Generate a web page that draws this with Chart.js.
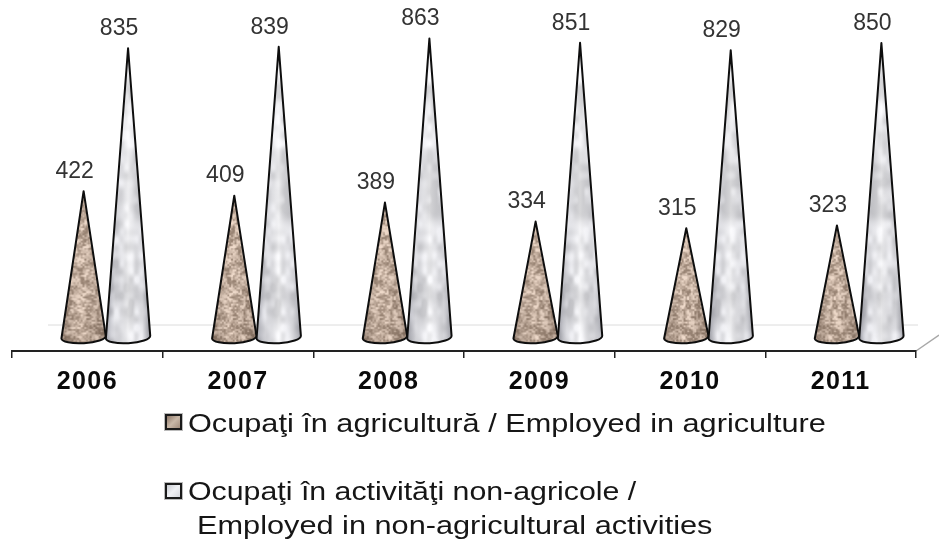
<!DOCTYPE html>
<html>
<head>
<meta charset="utf-8">
<title>Ocupați</title>
<script src="https://cdn.jsdelivr.net/npm/chart.js@4"></script>
<style>
  html, body { margin: 0; padding: 0; background: #fff; overflow: hidden; }
  #wrap { position: relative; width: 939px; height: 539px; filter: blur(0.45px); }
  #chart { position: absolute; left: 0; top: 0; }
  .lg { position: absolute; font: 26px "Liberation Sans", Arial, sans-serif; color: #161616; white-space: nowrap; line-height: 30px; transform-origin: left center; }
  .sw { position: absolute; width: 13px; height: 12px; border: 2px solid #1a1a1a; box-shadow: 0 0 0 1px #bbb; }
</style>
</head>
<body>
<div id="wrap">
  <canvas id="chart" width="939" height="539"></canvas>
  <div class="sw" style="left:165px;top:414px;background:linear-gradient(135deg,#8d7767,#c9b8a8,#a08b7b)"></div>
  <div class="lg" style="left:188px;top:408px;transform:scaleX(1.18)" id="lg1"></div>
  <div class="sw" style="left:165px;top:483px;background:linear-gradient(135deg,#c9ccd2,#f0f1f4,#d5d7dc)"></div>
  <div class="lg" style="left:188px;top:476px;transform:scaleX(1.166)" id="lg2"></div>
  <div class="lg" style="left:197px;top:510px;transform:scaleX(1.181)" id="lg3"></div>
</div>
<script>
var years = ["2006", "2007", "2008", "2009", "2010", "2011"];
var agriculture = [422, 409, 389, 334, 315, 323];
var nonAgriculture = [835, 839, 863, 851, 829, 850];
var legendLabels = [
  "Ocupaţi în agricultură / Employed in agriculture",
  "Ocupaţi în activităţi non-agricole /",
  "Employed in non-agricultural activities"
];

document.getElementById("lg1").textContent = legendLabels[0];
document.getElementById("lg2").textContent = legendLabels[1];
document.getElementById("lg3").textContent = legendLabels[2];

// repeatable noise for the cone textures
function hash(x, y) {
  var s = Math.sin(x * 127.1 + y * 311.7) * 43758.5453;
  return s - Math.floor(s);
}

function smoothNoise(x, y) {
  var xi = Math.floor(x), yi = Math.floor(y);
  var fx = x - xi, fy = y - yi;
  fx = fx * fx * (3 - 2 * fx);
  fy = fy * fy * (3 - 2 * fy);
  var a = hash(xi, yi), b = hash(xi + 1, yi);
  var c = hash(xi, yi + 1), d = hash(xi + 1, yi + 1);
  return (a + (b - a) * fx) * (1 - fy) + (c + (d - c) * fx) * fy;
}

function makeTexture(paint) {
  var c = document.createElement("canvas");
  c.width = 80;
  c.height = 340;
  var g = c.getContext("2d");
  var img = g.createImageData(80, 340);
  for (var y = 0; y < 340; y++) {
    for (var x = 0; x < 80; x++) {
      var col = paint(x, y);
      var i = (y * 80 + x) * 4;
      img.data[i] = col[0];
      img.data[i + 1] = col[1];
      img.data[i + 2] = col[2];
      img.data[i + 3] = 255;
    }
  }
  g.putImageData(img, 0, 0);
  return c;
}

var speckle = makeTexture(function(x, y) {
  var n = smoothNoise(x / 1.8, y / 1.8) * 0.6 + smoothNoise(x / 5, y / 5) * 0.4;
  n = Math.min(1, Math.max(0, (n - 0.25) * 2));
  return [142 + n * 96, 120 + n * 96, 104 + n * 96];
});

var marble = makeTexture(function(x, y) {
  var n = smoothNoise(x / 11 + 3, y / 17) * 0.55 + smoothNoise(x / 5, y / 8 + 7) * 0.45;
  var v = 196 + Math.min(1, Math.max(0, (n - 0.22) * 1.8)) * 56;
  return [v, v, v + 3];
});

var conePlugin = {
  id: "cones",
  beforeDraw: function(chart) {
    var ctx = chart.ctx;
    var area = chart.chartArea;
    ctx.letterSpacing = "1.4px";
    ctx.save();
    // floor of the 3D plot
    ctx.strokeStyle = "#dcdcdc";
    ctx.lineWidth = 1;
    ctx.beginPath();
    ctx.moveTo(area.left + 36, area.bottom - 26);
    ctx.lineTo(area.right + 2, area.bottom - 26);
    ctx.stroke();
    ctx.strokeStyle = "#a8a8a8";
    ctx.lineWidth = 1.5;
    ctx.beginPath();
    ctx.moveTo(area.right, area.bottom);
    ctx.lineTo(area.right + 23, area.bottom - 16);
    ctx.stroke();
    ctx.restore();
  },
  afterDatasetsDraw: function(chart) {
    var ctx = chart.ctx;
    var textures = [speckle, marble];
    chart.data.datasets.forEach(function(ds, di) {
      chart.getDatasetMeta(di).data.forEach(function(bar, i) {
        var cx = bar.x + 18.5;
        var half = bar.width / 2;
        var ry = 6;
        var tilt = -0.06;
        ctx.save();
        ctx.beginPath();
        ctx.moveTo(cx, bar.y);
        ctx.lineTo(cx + half * Math.cos(tilt), bar.base + half * Math.sin(tilt));
        ctx.ellipse(cx, bar.base, half, ry, tilt, 0, Math.PI);
        ctx.closePath();

        ctx.save();
        ctx.clip();
        ctx.translate(cx - half - 4 * i, bar.base - 330);
        ctx.fillStyle = ctx.createPattern(textures[di], "repeat");
        ctx.fillRect(4 * i, 0, bar.width + 4, 345);
        ctx.restore();

        ctx.save();
        ctx.clip();
        var g = ctx.createLinearGradient(cx - half, 0, cx + half, 0);
        if (di === 0) {
          g.addColorStop(0, "rgba(60,45,35,.3)");
          g.addColorStop(0.45, "rgba(255,245,230,.1)");
          g.addColorStop(1, "rgba(60,45,35,.25)");
        } else {
          g.addColorStop(0, "rgba(70,72,85,.5)");
          g.addColorStop(0.2, "rgba(150,152,165,.15)");
          g.addColorStop(0.5, "rgba(255,255,255,.3)");
          g.addColorStop(0.82, "rgba(150,152,165,.12)");
          g.addColorStop(1, "rgba(70,72,85,.45)");
        }
        ctx.fillStyle = g;
        ctx.fillRect(cx - half - 1, bar.y, bar.width + 2, bar.base - bar.y + ry + 2);
        ctx.restore();

        ctx.strokeStyle = "#0e0e0e";
        ctx.lineWidth = 2;
        ctx.lineJoin = "round";
        ctx.stroke();
        ctx.restore();

        // value label, up and left of the tip
        ctx.save();
        ctx.letterSpacing = "0px";
        ctx.font = "23px 'Liberation Sans', Arial, sans-serif";
        ctx.fillStyle = "#333";
        ctx.textAlign = "center";
        ctx.textBaseline = "middle";
        ctx.fillText(String(ds.data[i]), cx - 9, bar.y - 19.5);
        ctx.restore();
      });
    });
  }
};

new Chart(document.getElementById("chart"), {
  type: "bar",
  data: {
    labels: years,
    datasets: [
      { label: legendLabels[0], data: agriculture, backgroundColor: "rgba(0,0,0,0)" },
      { label: legendLabels[1] + " " + legendLabels[2], data: nonAgriculture, backgroundColor: "rgba(0,0,0,0)" }
    ]
  },
  options: {
    responsive: false,
    animation: false,
    categoryPercentage: 0.59,
    barPercentage: 1,
    layout: { padding: { left: 12, right: 23, top: 5, bottom: 0 } },
    plugins: { legend: { display: false }, tooltip: { enabled: false } },
    scales: {
      y: { display: false, min: -40, max: 960 },
      x: {
        afterFit: function(scale) { scale.height = 188; },
        border: { color: "#222", width: 2 },
        grid: { drawOnChartArea: false, color: "#222", lineWidth: 1.5, tickLength: 7 },
        ticks: {
          color: "#0a0a0a",
          maxRotation: 0,
          padding: 9,
          font: { family: "'Liberation Sans', Arial, sans-serif", size: 25, weight: "bold" }
        }
      }
    }
  },
  plugins: [conePlugin]
});
</script>
</body>
</html>
